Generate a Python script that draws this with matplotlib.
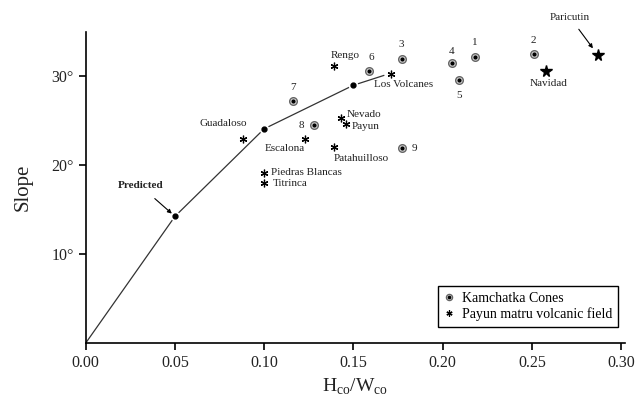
import matplotlib
matplotlib.use("Agg")
import matplotlib.pyplot as plt

plt.rcParams['font.family'] = ['Liberation Serif', 'DejaVu Serif']
plt.rcParams['mathtext.fontset'] = 'custom'
plt.rcParams['mathtext.rm'] = 'Liberation Serif'

# Kamchatka cones
kam_labels = ['1', '2', '3', '4', '5', '6', '7', '8', '9']
kam_x = [0.218, 0.251, 0.177, 0.205, 0.209, 0.159, 0.116, 0.128, 0.177]
kam_y = [32.2, 32.5, 32.0, 31.5, 29.6, 30.6, 27.2, 24.5, 21.9]

# Payun matru volcanic field
pay_labels = ['Rengo', 'Los Volcanes', 'Guadaloso', 'Escalona', 'Nevado',
              'Payun', 'Patahuilloso', 'Piedras Blancas', 'Titrinca']
pay_x = [0.139, 0.171, 0.088, 0.123, 0.143, 0.146, 0.139, 0.100, 0.100]
pay_y = [31.2, 30.3, 23.0, 23.0, 25.3, 24.6, 22.0, 19.1, 18.0]

# other cones (stars)
star_labels = ['Navidad', 'Paricutin']
star_x = [0.258, 0.287]
star_y = [30.6, 32.4]

# predicted curve
pred_x = [0.0, 0.05, 0.10, 0.15, 0.167]
pred_y = [0.0, 14.25, 24.1, 29.0, 30.1]
pred_dots = [1, 2, 3]

fig = plt.figure(figsize=(6.4, 4.04), dpi=100)
ax = fig.add_axes([0.134, 0.151, 0.842, 0.770])

ax.plot(pred_x, pred_y, color='#333333', lw=0.9, zorder=1)
ax.plot([pred_x[i] for i in pred_dots], [pred_y[i] for i in pred_dots],
        'o', color='black', ms=4, mec='white', mew=3, zorder=2)
ax.plot([pred_x[i] for i in pred_dots], [pred_y[i] for i in pred_dots],
        'o', color='black', ms=3.5, lw=0, zorder=3)

ring = ax.plot(kam_x, kam_y, 'o', ms=5.5, mfc='#d8d8d8', mec='#666666', mew=1.0, lw=0, zorder=3)[0]
dot = ax.plot(kam_x, kam_y, 'o', ms=2.0, color='black', lw=0, zorder=4)[0]
ast = ax.plot(pay_x, pay_y, marker=(6, 2, 0), ms=5.5, color='black', mew=0.9, lw=0, zorder=3)[0]
ax.plot(star_x, star_y, '*', ms=8.5, color='black', lw=0, zorder=3)

fs = 8
tc = '#222222'
# number labels of Kamchatka cones
kam_off = {'1': (0, 10), '2': (0, 10), '3': (0, 10), '4': (0, 8), '5': (0, -11),
           '6': (1, 10), '7': (0, 10), '8': (-9, 0), '9': (9, 0)}
for lab, x, y in zip(kam_labels, kam_x, kam_y):
    dx, dy = kam_off[lab]
    ax.annotate(lab, (x, y), xytext=(dx, dy), textcoords='offset points',
                ha='center', va='center', fontsize=fs, color=tc)

pay_off = {'Rengo': (8, 7, 'center'), 'Los Volcanes': (9, -8, 'center'),
           'Guadaloso': (-14, 11, 'center'), 'Escalona': (-15, -7, 'center'),
           'Nevado': (4, 2.5, 'left'), 'Payun': (4, -1.5, 'left'),
           'Patahuilloso': (20, -8, 'center'), 'Piedras Blancas': (5, 0.5, 'left'),
           'Titrinca': (6, -0.5, 'left')}
for lab, x, y in zip(pay_labels, pay_x, pay_y):
    dx, dy, ha = pay_off[lab]
    ax.annotate(lab, (x, y), xytext=(dx, dy), textcoords='offset points',
                ha=ha, va='center', fontsize=fs, color=tc)

ax.annotate(star_labels[0], (star_x[0], star_y[0]), xytext=(2, -9),
            textcoords='offset points', ha='center', va='center', fontsize=fs, color=tc)
ax.annotate(star_labels[1], (star_x[1], star_y[1]), xytext=(-20, 27),
            textcoords='offset points', ha='center', va='center', fontsize=fs, color=tc,
            arrowprops=dict(arrowstyle='-|>', color='black', lw=0.8,
                            mutation_scale=6, shrinkA=4, shrinkB=6))
ax.annotate('Predicted', (pred_x[1], pred_y[1]), xytext=(-25, 22),
            textcoords='offset points', ha='center', va='center', fontsize=fs,
            fontweight='bold', color=tc,
            arrowprops=dict(arrowstyle='-|>', color='black', lw=0.8,
                            mutation_scale=6, shrinkA=6, shrinkB=3))

ax.set_xlim(0, 0.302)
ax.set_ylim(0, 35)
ax.set_xticks([0.0, 0.05, 0.10, 0.15, 0.20, 0.25, 0.30])
ax.set_xticklabels(['0.00', '0.05', '0.10', '0.15', '0.20', '0.25', '0.30'])
ax.set_yticks([10, 20, 30])
ax.set_yticklabels(['10°', '20°', '30°'])
ax.tick_params(labelsize=11.5, length=5, width=1.2, direction='out', labelcolor=tc)
for s in ['top', 'right']:
    ax.spines[s].set_visible(False)
for s in ['left', 'bottom']:
    ax.spines[s].set_linewidth(1.2)

ax.set_xlabel(r'H$_{\mathrm{co}}$/W$_{\mathrm{co}}$', fontsize=14, color=tc)
ax.set_ylabel('Slope', fontsize=15, labelpad=14, color=tc)

leg = ax.legend([(ring, dot), ast], ['Kamchatka Cones', 'Payun matru volcanic field'],
                loc='lower right', bbox_to_anchor=(1.0, 0.03), fontsize=10,
                fancybox=False, framealpha=1, edgecolor='black',
                handlelength=0.8, handletextpad=0.5, borderpad=0.4,
                labelspacing=0.2, markerscale=0.8)
leg.get_frame().set_linewidth(1.0)

fig.savefig('out.png', dpi=100)
